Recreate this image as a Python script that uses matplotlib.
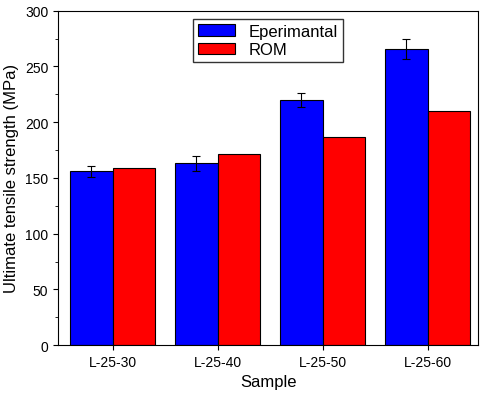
import matplotlib.pyplot as plt
import numpy as np
from matplotlib.ticker import MultipleLocator

samples = ["L-25-30", "L-25-40", "L-25-50", "L-25-60"]
experimental = [156, 163, 220, 266]
exp_err = [5, 7, 6, 9]
rom = [159, 171, 187, 210]

plt.rcParams['font.family'] = ['Liberation Sans', 'DejaVu Sans']
fig = plt.figure(figsize=(4.8, 4.02), dpi=100)
ax = fig.add_axes([0.121, 0.139, 0.875, 0.832])

x = np.arange(len(samples))
w = 0.405
ax.bar(x - w / 2, experimental, w, color='#0000ff', edgecolor='black', linewidth=0.8,
       yerr=exp_err, capsize=3, error_kw=dict(elinewidth=0.8, capthick=0.8), label='Eperimantal')
ax.bar(x + w / 2, rom, w, color='#ff0000', edgecolor='black', linewidth=0.8, label='ROM')

ax.set_xlim(-0.52, 3.48)
ax.set_ylim(0, 300)
ax.set_xticks(x)
ax.set_xticklabels(samples)
ax.yaxis.set_major_locator(MultipleLocator(50))
ax.yaxis.set_minor_locator(MultipleLocator(25))
ax.tick_params(labelsize=10)
ax.set_xlabel('Sample', fontsize=12)
ax.set_ylabel('Ultimate tensile strength (MPa)', fontsize=12)
ax.legend(loc='upper center', bbox_to_anchor=(0.5, 1.0), fontsize=12, fancybox=False,
          edgecolor='black', handlelength=2.2, borderpad=0.3, labelspacing=0.2)

fig.savefig('out.png', dpi=100)
